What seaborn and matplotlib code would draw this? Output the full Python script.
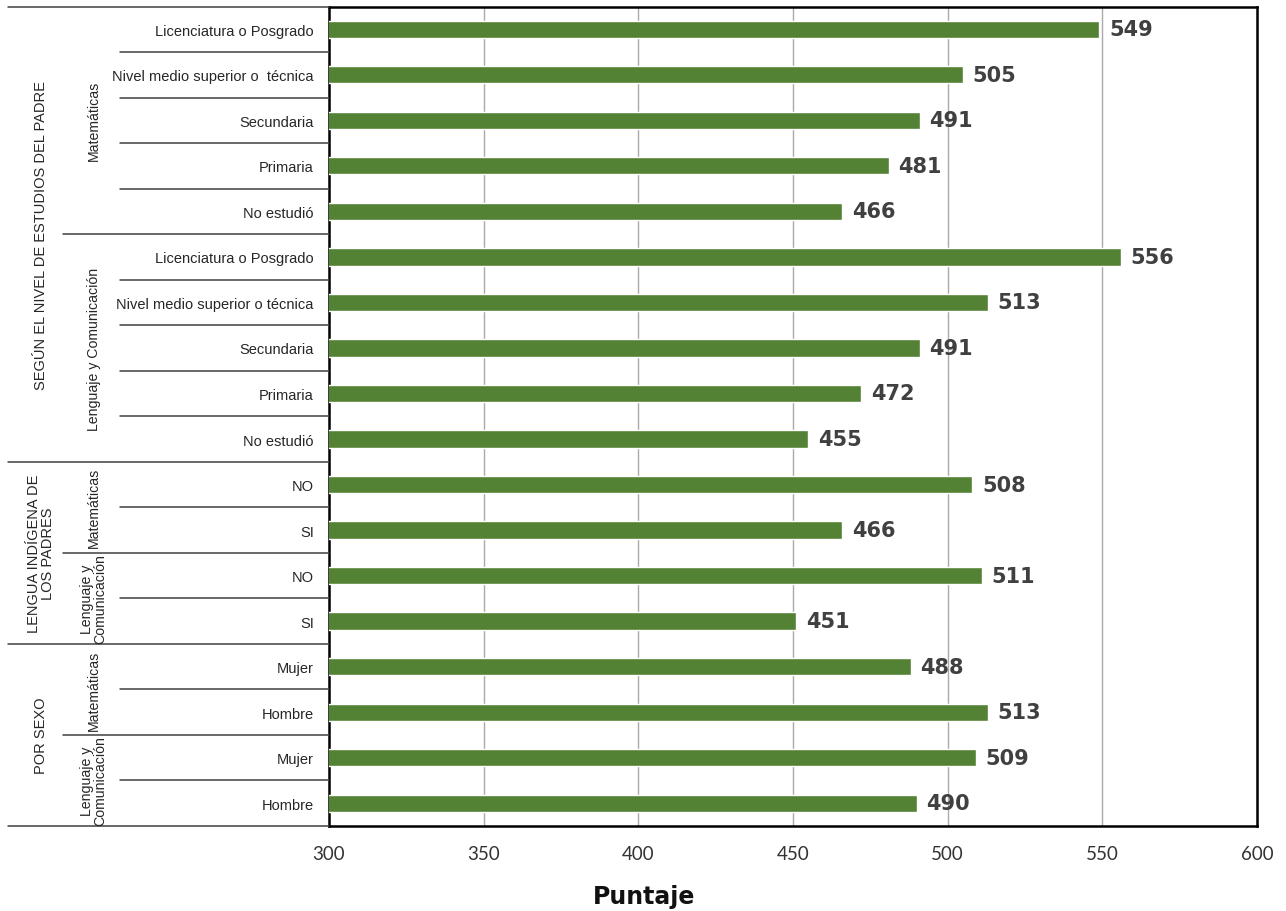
import matplotlib
matplotlib.use("Agg")
import matplotlib.pyplot as plt
import matplotlib.transforms as mtransforms
from matplotlib.lines import Line2D
import seaborn as sns
import pandas as pd

# ---- data ----
row_labels = [
    "Licenciatura o Posgrado", "Nivel medio superior o  técnica", "Secundaria", "Primaria", "No estudió",
    "Licenciatura o Posgrado", "Nivel medio superior o técnica", "Secundaria", "Primaria", "No estudió",
    "NO", "SI", "NO", "SI",
    "Mujer", "Hombre", "Mujer", "Hombre",
]
values = [549, 505, 491, 481, 466, 556, 513, 491, 472, 455,
          508, 466, 511, 451, 488, 513, 509, 490]
groups = ["SEGÚN EL NIVEL DE ESTUDIOS DEL PADRE", "LENGUA INDÍGENA DE\nLOS PADRES", "POR SEXO"]
group_spans = [(0, 9), (10, 13), (14, 17)]
subgroups = ["Matemáticas", "Lenguaje y Comunicación", "Matemáticas", "Lenguaje y\nComunicación",
             "Matemáticas", "Lenguaje y\nComunicación"]
subgroup_spans = [(0, 4), (5, 9), (10, 11), (12, 13), (14, 15), (16, 17)]
x_ticks = [300, 350, 400, 450, 500, 550, 600]
x_label = "Puntaje"

BAR = "#548235"
TXT = "#404040"
LBL = "#262626"
NARROW = ["Liberation Sans Narrow", "Liberation Sans", "DejaVu Sans"]

sns.set_theme(style="white")
plt.rcParams["font.family"] = ["DejaVu Sans"]

df = pd.DataFrame({"key": [f"r{i}" for i in range(len(values))], "puntaje": values})

fig = plt.figure(figsize=(12.86, 9.12), dpi=100)
ax = fig.add_axes([329 / 1286, 1 - 827 / 912, (1257 - 329) / 1286, (827 - 7.5) / 912])

sns.barplot(data=df, x="puntaje", y="key", orient="h", color=BAR, width=0.38,
            saturation=1, ax=ax, zorder=3)

ax.set_xlim(300, 600)
ax.set_ylim(len(values) - 0.5, -0.5)
ax.set_xticks(x_ticks)
ax.set_xticklabels([str(t) for t in x_ticks], fontsize=13.5, color="#333333",
                   fontfamily="Lato")
ax.tick_params(axis="x", length=0, pad=14)
ax.set_yticks(range(len(values)))
ax.set_yticklabels(row_labels, fontsize=10.5, color=LBL, fontfamily=NARROW)
ax.tick_params(axis="y", length=0, pad=11)
ax.set_ylabel("")
ax.set_xlabel(x_label, fontsize=17, fontweight="bold", color="#111111")
ax.xaxis.set_label_coords(0.34, -0.071)

for x in x_ticks[1:-1]:
    ax.axvline(x, color="#aaaaaa", lw=1.0, zorder=1)
for s in ax.spines.values():
    s.set_color("black")
    s.set_linewidth(1.8)

for i, v in enumerate(values):
    ax.annotate(str(v), (v, i), xytext=(7, 0), textcoords="offset points",
                va="center", ha="left", fontsize=15, fontweight="bold", color=TXT)

# ---- hierarchical left labels ----
tr = mtransforms.blended_transform_factory(fig.transFigure, ax.transData)
x_major, x_sub, x_row, x_end = 8 / 1286, 63 / 1286, 120 / 1286, 329 / 1286
LINE = "#404040"

def hline(x0, y):
    fig.add_artist(Line2D([x0, x_end], [y, y], transform=tr, color=LINE, lw=1.1, clip_on=False))

boundaries_major = {g[0] - 0.5 for g in group_spans} | {group_spans[-1][1] + 0.5}
boundaries_sub = {s[0] - 0.5 for s in subgroup_spans} - boundaries_major
for y in boundaries_major:
    hline(x_major, y)
for y in boundaries_sub:
    hline(x_sub, y)
for i in range(1, len(values)):
    y = i - 0.5
    if y not in boundaries_major and y not in boundaries_sub:
        hline(x_row, y)

for name, (a, b) in zip(groups, group_spans):
    fig.text(41 / 1286, (a + b) / 2, name, transform=tr, rotation=90, ha="center",
             va="center", fontsize=10.5, color=LBL, fontfamily=NARROW, linespacing=1.0)

for name, (a, b) in zip(subgroups, subgroup_spans):
    fig.text(94 / 1286, (a + b) / 2, name, transform=tr, rotation=90, ha="center",
             va="center", fontsize=10.2, color=LBL, fontfamily=NARROW, linespacing=0.95)

fig.savefig("out.png", dpi=100)
